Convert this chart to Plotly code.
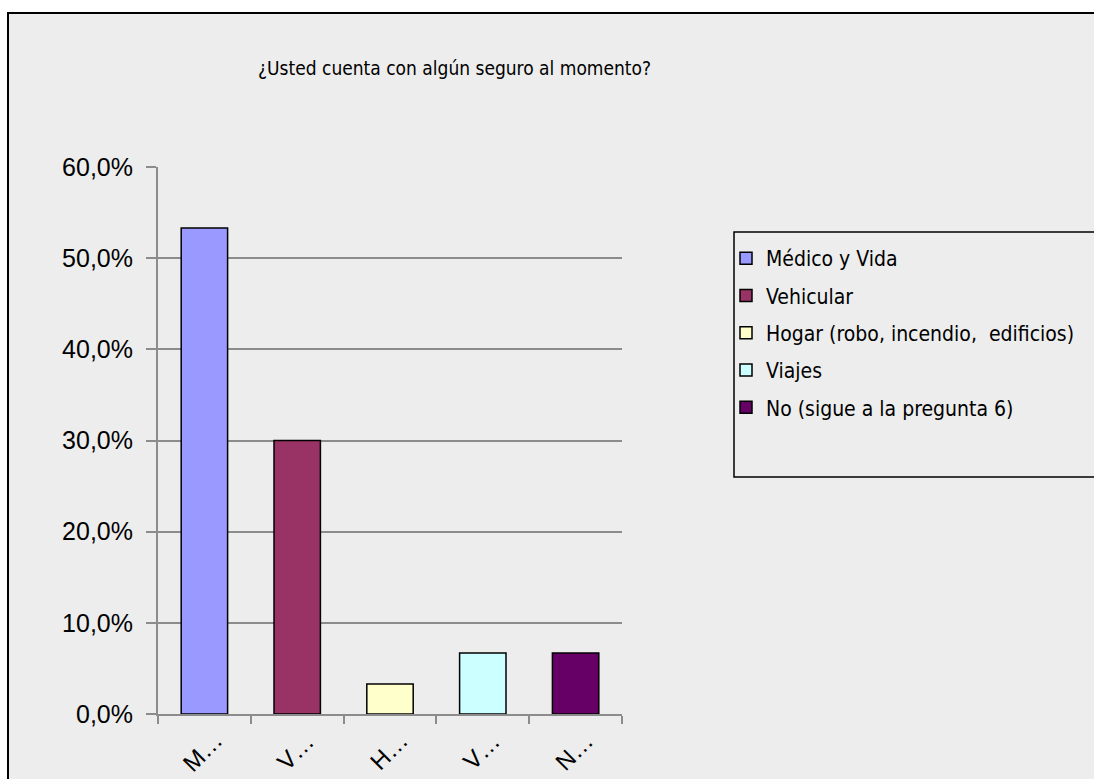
import plotly.graph_objects as go

# Data
categorias = ['Médico y Vida', 'Vehicular', 'Hogar (robo, incendio,  edificios)',
              'Viajes', 'No (sigue a la pregunta 6)']
etiquetas_x = ['M…', 'V…', 'H…', 'V…', 'N…']
porcentajes = [0.533, 0.300, 0.033, 0.067, 0.067]
y_ticks = [0, 0.1, 0.2, 0.3, 0.4, 0.5, 0.6]

COLORES = ['#9999FF', '#993366', '#FFFFCC', '#CCFFFF', '#660066']
NARROW = "DejaVu Sans Condensed, Liberation Sans Narrow, Arial Narrow, Liberation Sans, sans-serif"
REGULAR = "Liberation Sans, Arial, sans-serif"
GRID = '#8C8C8C'
BG = '#EDEDED'

W, H = 1094, 779
# plot area (page pixels)
L, R, T, B = 158, 622, 167, 714
pw, ph = R - L, B - T


def px(x):
    return (x - L) / pw


def py(y):
    return (B - y) / ph


fig = go.Figure()
for i, (cat, val) in enumerate(zip(categorias, porcentajes)):
    fig.add_trace(go.Bar(
        x=[cat], y=[val], name=cat,
        marker=dict(color=COLORES[i], line=dict(color='black', width=1.5)),
        width=0.5,
        legendgroup=f"g{i}",
    ))

# truncated, rotated category labels
for cat, lab in zip(categorias, etiquetas_x):
    fig.add_annotation(
        text=lab, x=cat, xref='x', y=py(751), yref='paper',
        xshift=-2, textangle=-45, xanchor='center', yanchor='middle',
        showarrow=False, font=dict(family=REGULAR, size=24, color='black'),
    )

# outer chart border
fig.add_shape(type='rect', xref='paper', yref='paper',
              x0=px(8), x1=px(1120), y0=py(820), y1=py(13),
              line=dict(color='black', width=2), fillcolor=BG, layer='below')
# legend box
fig.add_shape(type='rect', xref='paper', yref='paper',
              x0=px(734), x1=px(1120), y0=py(477), y1=py(232),
              line=dict(color='black', width=1.5), fillcolor=BG, layer='below')

fig.add_annotation(
    text='¿Usted cuenta con algún seguro al momento?',
    xref='paper', yref='paper', x=px(454), y=py(68),
    xanchor='center', yanchor='middle',
    showarrow=False, font=dict(family=NARROW, size=19, color='black'),
)

fig.update_layout(
    width=W, height=H,
    margin=dict(l=L, r=W - R, t=T, b=H - B),
    paper_bgcolor='white', plot_bgcolor='rgba(0,0,0,0)',
    separators=',.',
    barmode='overlay',
    font=dict(family=REGULAR, color='black'),
    xaxis=dict(
        categoryorder='array', categoryarray=categorias,
        showticklabels=False, showgrid=False, automargin=False,
        showline=True, linecolor=GRID, linewidth=2,
        ticks='outside', tickson='boundaries', ticklen=8, tickcolor=GRID, tickwidth=2,
        range=[-0.5, 4.5],
    ),
    yaxis=dict(
        range=[0, 0.6], tickvals=y_ticks, tickformat='.1%', automargin=False,
        tickfont=dict(size=25), showgrid=True, gridcolor=GRID, gridwidth=1.5,
        showline=True, linecolor=GRID, linewidth=2, zeroline=False,
        ticks='outside', ticklen=10, tickcolor=GRID, tickwidth=2,
        ticklabelstandoff=8,
    ),
    legend=dict(
        x=px(726), y=py(238), xanchor='left', yanchor='top',
        bgcolor='rgba(0,0,0,0)', borderwidth=0,
        font=dict(family=NARROW, size=21, color='black'),
        tracegroupgap=7, itemwidth=30,
    ),
    showlegend=True,
)

# drop the default body margin so the figure fills the window exactly
fig.write_html("out.html", config={'displayModeBar': False},
               post_script="document.body.style.margin='0';document.body.style.overflow='hidden';")
